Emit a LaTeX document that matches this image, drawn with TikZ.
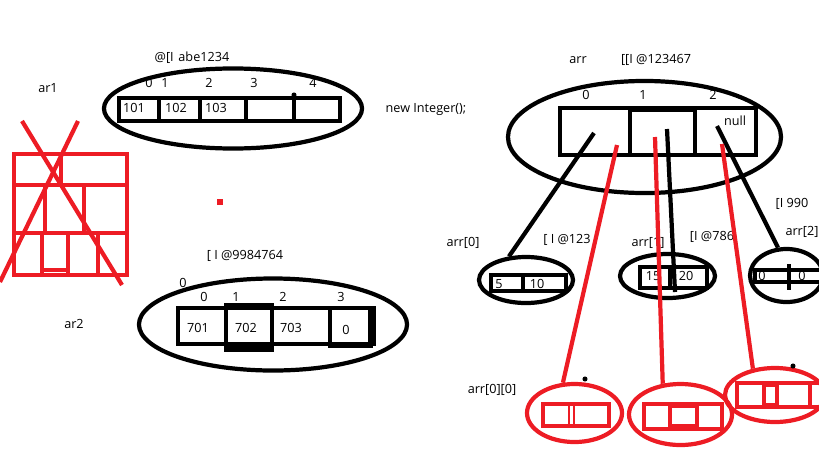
\documentclass[tikz,border=0pt]{standalone}
\usepackage{fontspec}
\setmainfont{Open Sans}
\usetikzlibrary{shapes.geometric}
\definecolor{paintred}{HTML}{ED1C24}

\begin{document}
\begin{tikzpicture}[x=0.025cm, y=-0.025cm,
		pen/.style={line width=3pt},
		thinpen/.style={line width=1.6pt},
		oval/.style={draw, ellipse, pen, inner sep=0pt},
		redoval/.style={oval, draw=paintred},
		txt/.style={font=\fontsize{9}{11}\selectfont, inner sep=0pt}]
		\useasboundingbox (0,0) rectangle (819,460);
		\clip (0,0) rectangle (819,460);
		
		% ar1, das eindimensionale Feld
		\node[txt] (ar1) at (48,88) {ar1};
		\node[txt] (addrA) at (192,58) {@[I\ \kern1pt abe1234};
		\node[oval, minimum width=6.45cm, minimum height=2cm] (ovalA) at (233,108.5) {};
		\draw[pen] (119,98) rectangle (340,121);
		\foreach \x in {159,200,246,294} \draw[pen] (\x,98) -- (\x,121);
		\fill (294,95) circle (1.8pt);
		\foreach \i/\x in {0/149,1/165,2/209,3/254,4/313}
			\node[txt] (idxA\i) at (\x,83) {\i};
		\foreach \v/\x in {101/134,102/176,103/216}
			\node[txt] (valA\v) at (\x,108) {\v};
		\node[txt] (newint) at (426,110) {new Integer();};
		
		% durchgestrichenes Gitter
		\begin{scope}[paintred, pen]
			\draw (14,154) rectangle (127,275);
			\draw (14,185) -- (127,185);
			\draw (14,233) -- (127,233);
			\draw (61,154) -- (61,185);
			\draw (45,185) -- (45,233);
			\draw (84,185) -- (84,233);
			\foreach \x in {42,68,98} \draw (\x,233) -- (\x,275);
			\draw (42,270) -- (68,270);
			\draw (22,121) -- (122,285);
			\draw (78,121) -- (0,282);
		\end{scope}
		\fill[paintred] (217,199) rectangle (223,205);
		
		% ar2
		\node[txt] (addrB) at (245,256) {[ I @9984764};
		\node[txt] (zeroB) at (183,283) {0};
		\node[txt] (ar2) at (74,324) {ar2};
		\node[oval, minimum width=6.7cm, minimum height=2.3cm] (ovalB) at (273,324.5) {};
		\draw[pen] (178,308) rectangle (373,344);
		\draw[pen] (226,305) rectangle (272,350);
		\fill (224,344) rectangle (274,352);
		\draw[pen] (330,308) -- (330,346) -- (373,346);
		\fill (368,306) rectangle (376,346);
		\foreach \i/\x in {0/204,1/236,2/283,3/341}
			\node[txt] (idxB\i) at (\x,297) {\i};
		\foreach \v/\x in {701/198,702/246,703/291}
			\node[txt] (valB\v) at (\x,328) {\v};
		\node[txt] (valB0) at (346,330) {0};
		
		% arr, das zweidimensionale Feld
		\node[txt] (arr) at (578,60) {arr};
		\node[txt] (addrArr) at (656,60) {[[I @123467};
		\node[oval, minimum width=6.825cm, minimum height=2.8cm] (ovalArr) at (644.5,137) {};
		\draw[pen] (560,108) rectangle (756,155);
		\draw[pen] (630,108) -- (630,155);
		\draw[pen] (695,108) -- (695,155);
		\fill (630,106) rectangle (695,112);
		\foreach \i/\x in {0/586,1/643,2/713}
			\node[txt] (idxArr\i) at (\x,95) {\i};
		\node[txt] (null) at (735,121) {null};
		
		% Beschriftungen der Unterfelder
		\node[txt] (arr0) at (463,243) {arr[0]};
		\node[txt] (addr0) at (567,240) {[ I @123};
		\node[txt] (arr1) at (648,243) {arr[1]};
		\node[txt] (addr1) at (712,237) {[I @786};
		\node[txt] (addr2) at (792,204) {[I 990};
		\node[txt] (arr2) at (802,232) {arr[2]};
		\node[txt] (arr00) at (492,390) {arr[0][0]};
		
		% arr[0]
		\node[oval, minimum width=2.35cm, minimum height=1.15cm] (oval0) at (526,280) {};
		\draw[pen] (491,275) rectangle (566,291);
		\draw[pen] (523,275) -- (523,291);
		\node[txt] (val05) at (499,284) {5};
		\node[txt] (val010) at (537,284) {10};
		
		% arr[1]
		\node[oval, minimum width=2.375cm, minimum height=1.1cm] (oval1) at (667.5,276) {};
		\draw[pen] (640,267) rectangle (707,288);
		\draw[pen] (670,267) -- (670,288);
		\node[txt] (val115) at (653,276) {15};
		\node[txt] (val120) at (686,276) {20};
		
		% arr[2]
		\node[oval, minimum width=1.825cm, minimum height=1.325cm] (oval2) at (786.5,275.5) {};
		\draw[pen] (755,270) rectangle (822,282);
		\draw[pen] (789,264) -- (789,290);
		\node[txt] (val20a) at (762,276) {0};
		\node[txt] (val20b) at (802,276) {0};
		
		% schwarze Verweise
		\coordinate (cell0) at (594,133);
		\coordinate (cell1) at (667,129);
		\coordinate (cell2) at (717,126);
		\coordinate (end1) at (675,292);
		\draw[pen] (cell0) -- (oval0.126);
		\draw[pen] (cell1) -- (end1);
		\draw[pen] (cell2) -- (oval2.107);
		
		% rote Felder unten
		\begin{scope}[paintred]
			\node[redoval, minimum width=2.375cm, minimum height=1.45cm] (sub0) at (574.5,413) {};
			\draw[pen] (543,404) rectangle (609,426);
			\draw[thinpen] (569,404) -- (569,426);
			\draw[thinpen] (574,404) -- (574,426);
			
			\node[redoval, minimum width=2.575cm, minimum height=1.525cm] (sub1) at (680.5,414.5) {};
			\draw[pen] (644,404) rectangle (722,429);
			\draw[pen] (670,404) -- (670,429);
			\draw[pen] (697,404) -- (697,429);
			\fill (670,402) rectangle (697,408);
			\fill (670,424) rectangle (697,431);
			
			\node[redoval, minimum width=2.5cm, minimum height=1.35cm] (sub2) at (775,395) {};
			\draw[pen] (737,383) rectangle (822,407);
			\foreach \x in {764,777,810} \draw[pen] (\x,383) -- (\x,407);
			\fill (764,381) rectangle (777,387);
			\fill (764,403) rectangle (777,409);
		\end{scope}
		\fill (585,379) circle (1.8pt);
		\fill (793,366) circle (1.8pt);
		
		% rote Verweise
		\coordinate (rc0) at (617,145);
		\coordinate (rc1) at (655,137);
		\coordinate (rc2) at (722,144);
		\draw[pen, paintred] (rc0) -- (sub0.111);
		\draw[pen, paintred] (rc1) -- (sub1.120);
		\draw[pen, paintred] (rc2) -- (sub2.130);
	\end{tikzpicture}
\end{document}
